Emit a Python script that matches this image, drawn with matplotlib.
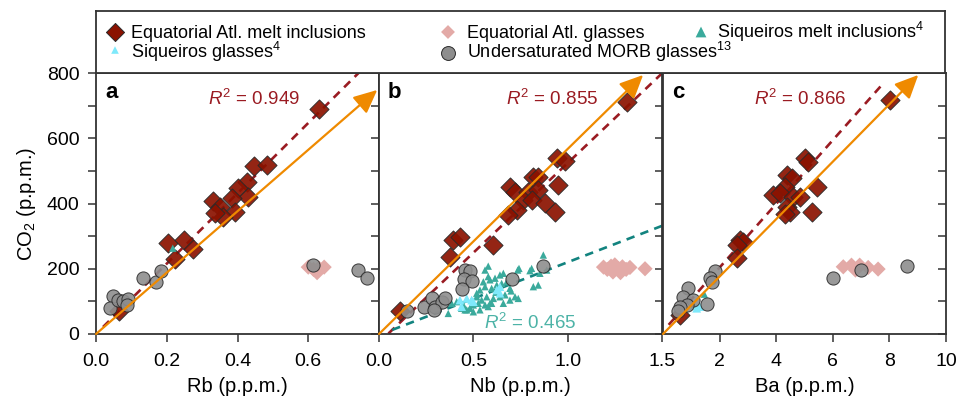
import matplotlib
matplotlib.use('Agg')
import matplotlib.pyplot as plt

plt.rcParams['font.family'] = ['Liberation Sans', 'DejaVu Sans']
plt.rcParams['mathtext.fontset'] = 'custom'
plt.rcParams['mathtext.rm'] = 'Liberation Sans'
plt.rcParams['mathtext.it'] = 'Liberation Sans:italic'
plt.rcParams['mathtext.bf'] = 'Liberation Sans:bold'

# ---- panel a : Rb ----
a_mi_x = [0.629, 0.448, 0.483, 0.426, 0.401, 0.431, 0.384, 0.330, 0.351, 0.393, 0.360, 0.336,
          0.204, 0.250, 0.273, 0.223, 0.066]
a_mi_y = [689, 515, 519, 467, 447, 421, 416, 409, 390, 375, 360, 370, 280, 288, 260, 230, 71]
a_glass_x = [0.600, 0.615, 0.630, 0.645, 0.625]
a_glass_y = [205, 198, 202, 205, 188]
a_siqmi_x = [0.217]
a_siqmi_y = [263]
a_siqgl_x = []
a_siqgl_y = []
a_morb_x = [0.047, 0.040, 0.063, 0.077, 0.091, 0.087, 0.132, 0.169, 0.184, 0.614, 0.740, 0.765]
a_morb_y = [117, 79, 104, 102, 106, 89, 171, 160, 193, 211, 196, 171]

# ---- panel b : Nb ----
b_mi_x = [1.316, 0.942, 0.986, 0.947, 0.818, 0.844, 0.694, 0.721, 0.791, 0.844, 0.765, 0.809,
          0.880, 0.933, 0.730, 0.685, 0.394, 0.429, 0.376, 0.606, 0.111]
b_mi_y = [712, 540, 531, 457, 482, 480, 451, 436, 436, 441, 411, 411, 402, 375, 380, 365,
          288, 298, 237, 273, 71]
b_glass_x = [1.19, 1.21, 1.23, 1.25, 1.27, 1.29, 1.31, 1.33, 1.24, 1.28, 1.41]
b_glass_y = [205, 198, 208, 212, 200, 206, 198, 204, 190, 188, 200]
b_siqmi_x = [0.871, 0.735, 0.800, 0.579, 0.641, 0.659, 0.615, 0.588, 0.553, 0.562, 0.535, 0.597,
             0.624, 0.650, 0.677, 0.694, 0.518, 0.544, 0.571, 0.606, 0.641, 0.668, 0.694, 0.721,
             0.738, 0.526, 0.562, 0.597, 0.500, 0.482, 0.465, 0.438, 0.447, 0.412, 0.385, 0.500,
             0.535, 0.579, 0.659, 0.853, 0.889, 0.844, 0.818, 0.579, 0.518, 0.491, 0.367, 0.456,
             0.562, 0.742, 0.809, 0.588, 0.482, 0.620, 0.700]
b_siqmi_y = [242, 196, 194, 208, 181, 186, 171, 166, 160, 145, 135, 140, 150, 155, 160, 140,
             114, 104, 114, 109, 114, 120, 104, 114, 109, 94, 89, 94, 89, 79, 74, 79, 89, 99,
             94, 68, 74, 84, 94, 186, 196, 150, 145, 176, 125, 104, 63, 74, 196, 201, 201, 94,
             79, 128, 132]
b_siqgl_x = [0.429, 0.465, 0.500, 0.438, 0.491, 0.624, 0.641, 0.641]
b_siqgl_y = [104, 109, 99, 84, 104, 135, 125, 145]
b_morb_x = [0.147, 0.240, 0.279, 0.297, 0.332, 0.350, 0.293, 0.456, 0.482, 0.452, 0.494, 0.442,
            0.707, 0.871]
b_morb_y = [71, 84, 109, 84, 97, 109, 74, 196, 194, 169, 163, 138, 169, 209]

# ---- panel c : Ba ----
c_mi_x = [8.02, 5.02, 5.13, 4.37, 4.55, 5.43, 3.90, 4.31, 4.13, 4.60, 4.84, 4.37, 4.49, 5.25,
          4.31, 2.72, 2.84, 2.60, 2.63, 0.60]
c_mi_y = [717, 538, 528, 487, 477, 451, 426, 451, 431, 421, 421, 390, 375, 375, 368, 288, 283,
          273, 232, 58]
c_glass_x = [6.37, 6.66, 6.95, 7.25, 7.60, 6.80]
c_glass_y = [206, 211, 211, 204, 199, 196]
c_siqmi_x = [1.46]
c_siqmi_y = [122]
c_siqgl_x = [1.19, 1.30, 1.10]
c_siqgl_y = [79, 84, 86]
c_morb_x = [1.84, 1.66, 1.72, 0.89, 0.72, 1.07, 0.84, 0.60, 0.54, 1.54, 6.02, 7.00, 8.63]
c_morb_y = [193, 171, 160, 140, 112, 104, 89, 82, 71, 91, 171, 196, 209]

# regression lines (slope, intercept, x start, x end) and R2
red_fit = [(1078, 0, 0.02, 0.80), (550, -26, 0.05, 1.5), (97.6, 8.6, 0.2, 7.75)]
red_r2 = ['0.949', '0.855', '0.866']
teal_fit = (223, -3, 0.07, 1.5)
teal_r2 = '0.465'
# orange reference arrow tip
arrow_tip = [(0.795, 748), (1.40, 794), (9.02, 794)]

xlabels = ['Rb (p.p.m.)', 'Nb (p.p.m.)', 'Ba (p.p.m.)']
xlims = [(0, 0.8), (0, 1.5), (0, 10)]
xticks = [[0, 0.2, 0.4, 0.6], [0, 0.5, 1.0, 1.5], [2, 4, 6, 8, 10]]
xticklabels = [['0.0', '0.2', '0.4', '0.6'], ['0.0', '0.5', '1.0', '1.5'],
               ['2', '4', '6', '8', '10']]
letters = ['a', 'b', 'c']
r2_xpos = [0.558, 0.61, 0.484]

C_MI = '#8b1200'
C_GLASS = '#e3aaa7'
C_SIQMI = '#3aaa9c'
C_SIQGL = '#7fe9fb'
C_MORB = '#8e8e8e'
C_EDGE = '#2a2a2a'
C_ORANGE = '#ef8a00'
C_RED = '#9a1b22'
C_TEAL = '#12837f'
C_SPINE = '#333333'

panels = [
    (a_mi_x, a_mi_y, a_glass_x, a_glass_y, a_siqmi_x, a_siqmi_y, a_siqgl_x, a_siqgl_y, a_morb_x, a_morb_y),
    (b_mi_x, b_mi_y, b_glass_x, b_glass_y, b_siqmi_x, b_siqmi_y, b_siqgl_x, b_siqgl_y, b_morb_x, b_morb_y),
    (c_mi_x, c_mi_y, c_glass_x, c_glass_y, c_siqmi_x, c_siqmi_y, c_siqgl_x, c_siqgl_y, c_morb_x, c_morb_y),
]

fig = plt.figure(figsize=(9.56, 3.99), dpi=100)
W, H = 956.0, 399.0
lefts = [96, 379, 663]
axes = []
for i, (mx, my, gx, gy, sx, sy, qx, qy, ox, oy) in enumerate(panels):
    ax = fig.add_axes([lefts[i] / W, 65 / H, 283 / W, 261 / H])
    axes.append(ax)
    ax.set_xlim(*xlims[i])
    ax.set_ylim(0, 800)

    # fit lines
    s, b0, x0, x1 = red_fit[i]
    ax.plot([x0, x1], [s * x0 + b0, s * x1 + b0], color=C_RED, lw=1.9,
            dashes=(3.2, 2.4), zorder=1)
    if i == 1:
        s, b0, x0, x1 = teal_fit
        ax.plot([x0, x1], [s * x0 + b0, s * x1 + b0], color=C_TEAL, lw=1.9,
                dashes=(3.2, 2.4), zorder=1)

    ax.scatter(gx, gy, marker='D', s=60, color=C_GLASS, edgecolors='none', zorder=2)
    ax.scatter(mx, my, marker='D', s=95, color=C_MI, edgecolors=C_EDGE, linewidths=0.7,
               alpha=0.92, zorder=3)
    ax.scatter(sx, sy, marker='^', s=28, color=C_SIQMI, edgecolors='none', zorder=4)
    ax.scatter(qx, qy, marker='^', s=40, color=C_SIQGL, edgecolors='none', zorder=4)
    ax.scatter(ox, oy, marker='o', s=90, color=C_MORB, edgecolors=C_EDGE, linewidths=0.7,
               alpha=0.9, zorder=5)

    ax.annotate('', xy=arrow_tip[i], xytext=(0, 0),
                arrowprops=dict(arrowstyle='-|>,head_length=0.65,head_width=0.3',
                                color=C_ORANGE, lw=1.6, mutation_scale=22,
                                shrinkA=0, shrinkB=0),
                annotation_clip=False, zorder=6)

    ax.text(0.032, 0.905, letters[i], transform=ax.transAxes, fontsize=16,
            fontweight='bold', va='baseline', ha='left')
    ax.text(r2_xpos[i], 0.877, '$R^2$ = ' + red_r2[i], transform=ax.transAxes,
            fontsize=13.5, color=C_RED, ha='center', va='baseline')
    if i == 1:
        ax.text(0.534, 0.02, '$R^2$ = ' + teal_r2, transform=ax.transAxes,
                fontsize=13.5, color='#4db3a7', ha='center', va='baseline')

    ax.set_xticks(xticks[i])
    ax.set_xticklabels(xticklabels[i])
    ax.set_yticks(range(0, 801, 100))
    if i == 0:
        ax.set_yticklabels(['0', '', '200', '', '400', '', '600', '', '800'])
        ax.set_ylabel('CO$_2$ (p.p.m.)', fontsize=14.5, labelpad=6)
    else:
        ax.set_yticklabels([])
    ax.tick_params(direction='out', length=6, width=1.1, color=C_SPINE,
                   labelsize=14, pad=6)
    ax.tick_params(axis='x', pad=8)
    ax.set_xlabel(xlabels[i], fontsize=14.5, labelpad=5)
    for sp in ax.spines.values():
        sp.set_color(C_SPINE)
        sp.set_linewidth(1.3)

# inward ticks on the right edge of panel c
rax = axes[2].twinx()
rax.set_ylim(0, 800)
rax.set_yticks(range(0, 801, 100))
rax.set_yticklabels([])
rax.tick_params(direction='in', length=6, width=1.1, color=C_SPINE)
for sp in rax.spines.values():
    sp.set_visible(False)

# legend box
leg_labels = ['Equatorial Atl. melt inclusions', 'Siqueiros glasses$^4$',
              'Equatorial Atl. glasses', 'Undersaturated MORB glasses$^{13}$',
              'Siqueiros melt inclusions$^4$']
leg_markers = ['D', '^', 'D', 'o', '^']
leg_colors = [C_MI, C_SIQGL, C_GLASS, C_MORB, C_SIQMI]
leg_edges = [C_EDGE, 'none', 'none', C_EDGE, 'none']
leg_sizes = [85, 30, 50, 100, 60]
leg_pos = [(115, 32, 131, 37.7), (115, 50, 131, 58.3), (448, 32, 467, 37.7),
           (448, 53, 467, 58.3), (701, 32, 717, 37.7)]

lax = fig.add_axes([96 / W, 326 / H, 849 / W, 62 / H])
lax.set_xlim(96, 945)
lax.set_ylim(73, 11)
lax.set_xticks([])
lax.set_yticks([])
for sp in lax.spines.values():
    sp.set_color(C_SPINE)
    sp.set_linewidth(1.3)
for lab, mk, col, ec, sz, (mx_, my_, tx, ty) in zip(leg_labels, leg_markers, leg_colors,
                                                    leg_edges, leg_sizes, leg_pos):
    lax.scatter([mx_], [my_], marker=mk, s=sz, color=col, edgecolors=ec, linewidths=0.7)
    lax.text(tx, ty, lab, fontsize=13, ha='left', va='baseline')

fig.savefig('out.png', dpi=100)
